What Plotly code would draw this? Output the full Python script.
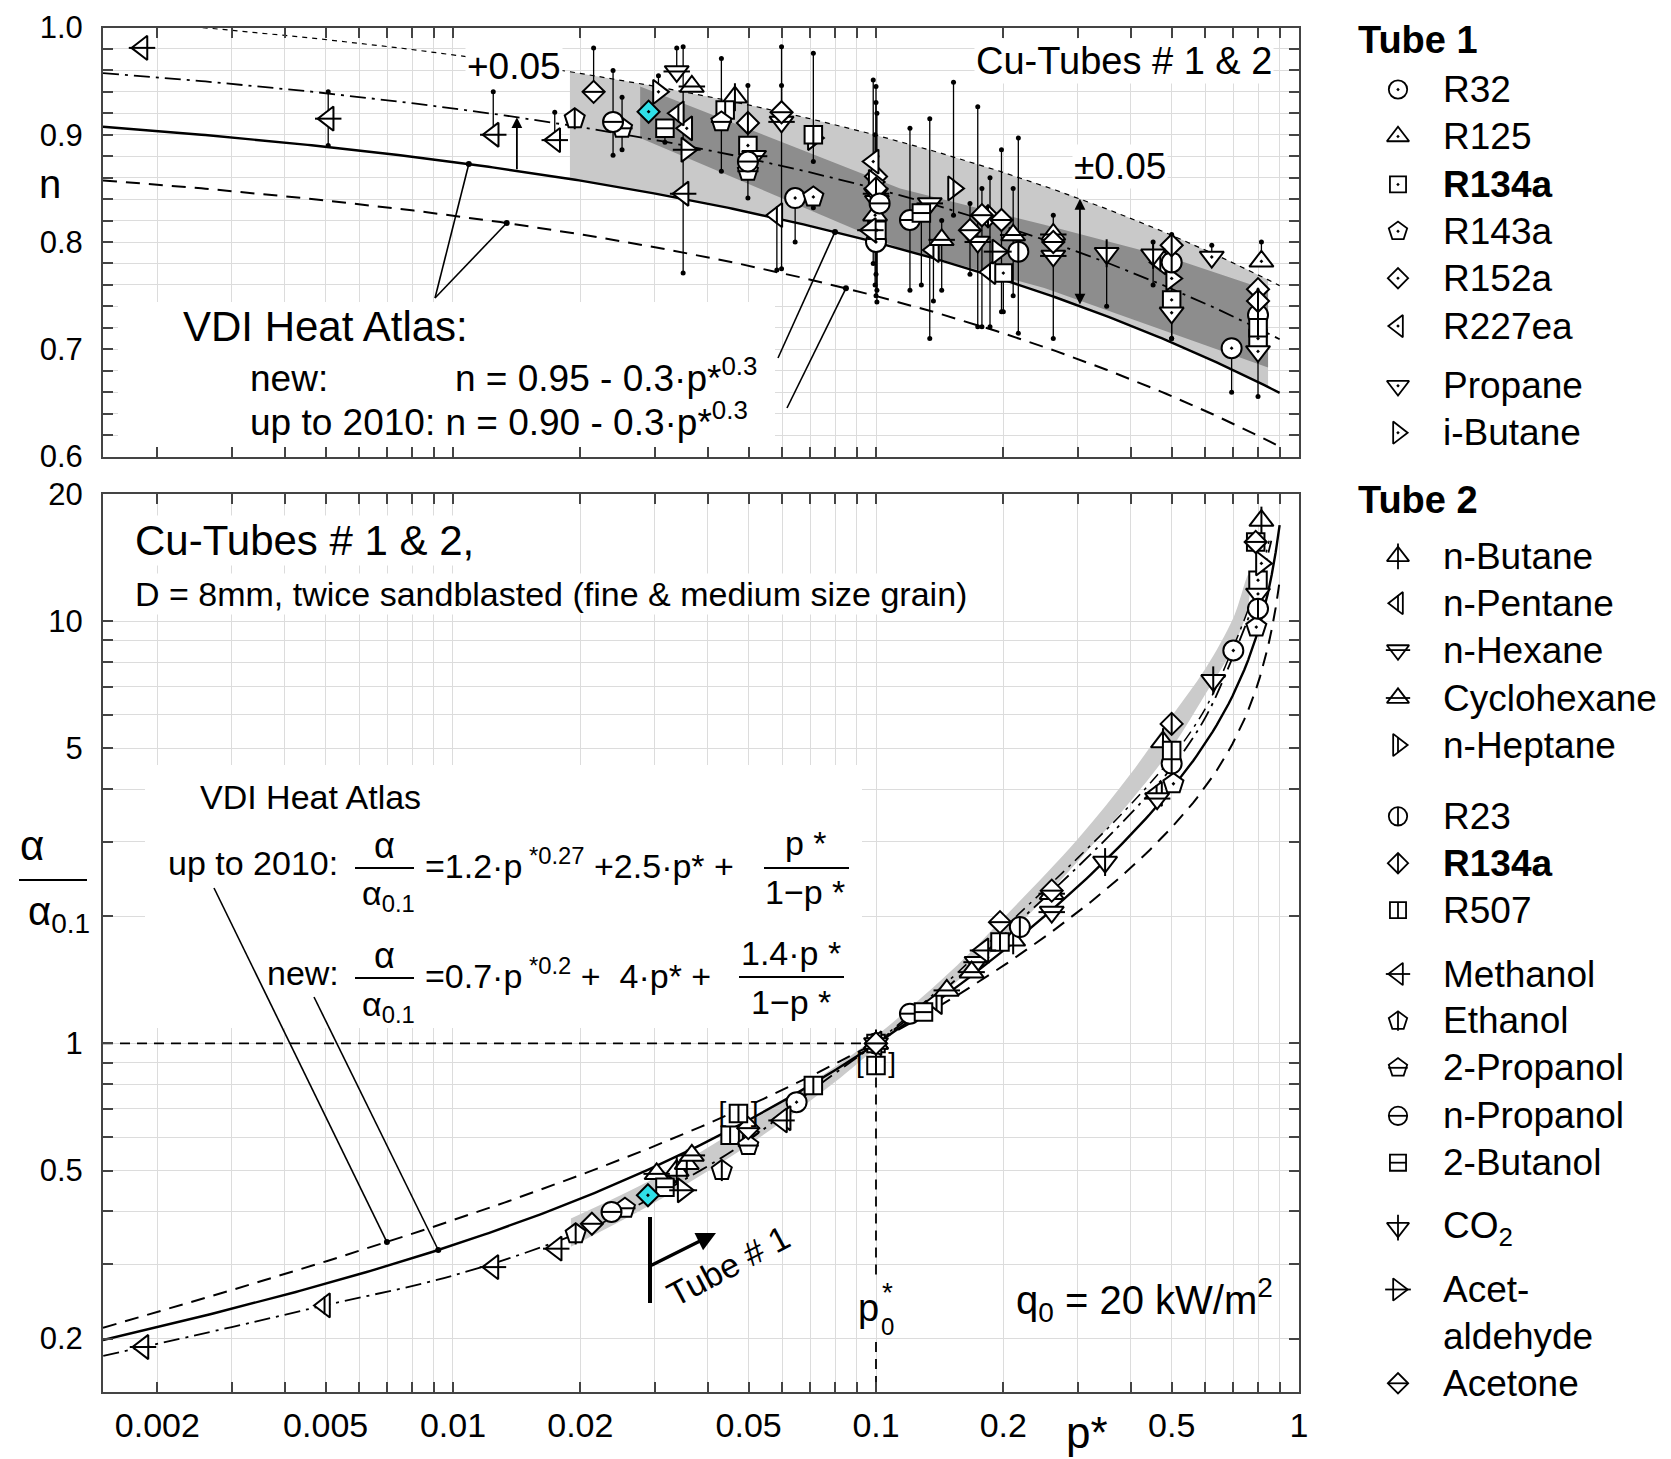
import numpy as np
import plotly.graph_objects as go

W, H = 1671, 1459
FONT = "Liberation Sans, Arial, Helvetica, sans-serif"

# ------------------------------------------------------------------ DATA
# correlations printed in the chart (VDI Heat Atlas)
N_NEW_A, N_OLD_A, N_B, N_C = 0.95, 0.90, 0.3, 0.3
N_FIT_SHIFT, N_BAND_SHIFT = 0.05, 0.10

# ---- top panel: exponent n, whisker ends (None = no whisker)
top_species = ["Methanol", "Methanol", "Methanol", "Methanol", "Ethanol", "Acetone", "n-Propanol", "2-Propanol",
               "i-Butane", "n-Hexane", "Cyclohexane", "2-Butanol", "n-Pentane", "R227ea", "Acetaldehyde", "Methanol",
               "2-Propanol", "n-Butane", "R507", "R134a T2", "R134a", "n-Hexane", "n-Propanol", "2-Propanol",
               "Acetone", "n-Hexane", "n-Heptane", "R507", "R32", "R143a", "n-Pentane",
               "R227ea", "R152a", "i-Butane", "R134a T2", "n-Hexane", "Propane", "n-Propanol", "R125", "Methanol", "R134a", "R32",
               "n-Propanol", "2-Butanol", "n-Hexane", "n-Pentane", "Cyclohexane", "n-Heptane", "Acetone", "n-Hexane", "Acetone", "R134a T2",
               "n-Pentane", "Acetone", "Acetaldehyde", "R134a", "Cyclohexane", "R23", "Acetone", "n-Hexane", "Cyclohexane",
               "CO2", "CO2", "R134a T2", "R23", "n-Pentane", "i-Butane", "R134a", "Propane", "Propane", "R32",
               "R125", "R152a", "R134a T2", "R23", "R507", "R134a", "Propane"]
top_p = [0.00184, 0.00507, 0.01245, 0.0174, 0.0194, 0.0215, 0.0239, 0.0251,
         0.0306, 0.0338, 0.0367, 0.0317, 0.0341, 0.0357, 0.0357, 0.0350,
         0.0431, 0.0464, 0.0440, 0.0498, 0.0498, 0.0515, 0.0498, 0.0498,
         0.0598, 0.0598, 0.0711, 0.0711, 0.0644, 0.0711, 0.0583,
         0.0985, 0.100, 0.099, 0.100, 0.100, 0.1005, 0.102, 0.0995, 0.097, 0.1005, 0.100,
         0.1203, 0.128, 0.134, 0.1367, 0.143, 0.1525, 0.1668, 0.174, 0.178, 0.184,
         0.186, 0.198, 0.194, 0.200, 0.211, 0.217, 0.2625, 0.2625, 0.2625,
         0.351, 0.452, 0.500, 0.500, 0.470, 0.500, 0.500, 0.500, 0.622, 0.693,
         0.815, 0.800, 0.800, 0.800, 0.800, 0.800, 0.800]
top_n = [0.981, 0.915, 0.900, 0.895, 0.915, 0.940, 0.912, 0.906,
         0.940, 0.959, 0.945, 0.906, 0.920, 0.906, 0.886, 0.845,
         0.912, 0.935, 0.923, 0.911, 0.890, 0.880, 0.875, 0.866,
         0.921, 0.912, 0.897, 0.900, 0.841, 0.842, 0.825,
         0.875, 0.861, 0.856, 0.850, 0.845, 0.838, 0.836, 0.825, 0.811, 0.811, 0.800,
         0.8205, 0.827, 0.836, 0.7925, 0.802, 0.850, 0.811, 0.800, 0.825, 0.824,
         0.772, 0.8205, 0.791, 0.771, 0.8065, 0.791, 0.800, 0.787, 0.807,
         0.7895, 0.788, 0.797, 0.781, 0.781, 0.766, 0.746, 0.734, 0.786, 0.701,
         0.782, 0.756, 0.745, 0.732, 0.720, 0.710, 0.698]
top_lo = [None, 0.890, 0.900, 0.895, None, 0.940, 0.881, 0.886,
          0.940, 0.959, None, 0.893, None, None, None, 0.771,
          0.866, None, None, 0.875, None, None, None, 0.841,
          0.921, 0.775, 0.875, None, 0.800, 0.832, 0.774,
          0.780, 0.800, None, 0.770, None, 0.755, None, 0.760, None, 0.744, 0.750,
          0.755, 0.760, 0.710, 0.745, 0.755, 0.825, 0.770, 0.721, 0.721, None,
          0.721, 0.735, None, 0.735, 0.750, 0.715, 0.710, None, None,
          0.740, 0.760, 0.710, None, None, None, None, 0.710, 0.786, 0.660,
          0.782, None, None, None, None, 0.656, None]
top_hi = [None, 0.940, 0.940, 0.921, None, 0.981, 0.960, 0.935,
          0.955, 0.981, None, 0.906, None, None, None, 0.982,
          0.971, None, None, 0.946, None, None, None, 0.866,
          0.982, 0.946, 0.976, None, 0.841, 0.842, 0.825,
          0.951, 0.945, None, 0.930, None, 0.920, None, 0.900, None, 0.880, 0.860,
          0.906, 0.827, 0.915, 0.7925, 0.820, 0.949, 0.836, 0.926, 0.850, None,
          0.860, 0.886, None, 0.771, 0.850, 0.897, 0.825, None, None,
          0.7895, 0.800, 0.807, None, None, None, None, 0.734, 0.797, 0.701,
          0.800, None, None, None, None, 0.750, None]

# highlighted (cyan) R152a point
hl_top_p, hl_top_n = [0.0290], [0.9215]
hl_bot_p, hl_bot_r = [0.0289], [0.437]

# dark grey band (top panel) vertices
dark_band_p = [0.0277, 0.114, 0.25, 0.5, 0.845, 0.845, 0.5, 0.25, 0.114, 0.0277]
dark_band_n = [0.945, 0.850, 0.816, 0.785, 0.755, 0.683, 0.715, 0.757, 0.794, 0.897]
light_band_range = [0.0189, 0.845]

# ---- bottom panel: alpha / alpha_0.1
bot_species = ["Methanol", "n-Pentane", "Methanol", "Methanol", "Ethanol", "Acetone", "n-Propanol", "2-Propanol",
               "2-Butanol", "Acetaldehyde", "i-Butane", "Cyclohexane", "n-Butane", "n-Butane", "Cyclohexane", "Ethanol",
               "R507", "n-Heptane", "Acetone", "2-Propanol", "Methanol", "n-Pentane", "R32", "R507",
               "R32", "R125", "R134a", "R152a", "R227ea", "Propane", "Acetone", "n-Butane",
               "n-Propanol", "2-Butanol", "n-Pentane", "Cyclohexane", "Cyclohexane", "n-Hexane", "Methanol", "Acetone", "R507", "R23", "n-Butane",
               "n-Hexane", "Cyclohexane", "Acetone", "CO2",
               "n-Pentane", "n-Hexane", "R143a", "R23", "R507", "n-Butane", "R134a T2",
               "CO2", "R32", "R143a", "R23", "Propane", "R134a", "i-Butane", "R507", "Acetone", "n-Butane"]
bot_p = [0.00185, 0.00497, 0.01243, 0.01754, 0.0195, 0.0213, 0.0237, 0.0255,
         0.0317, 0.035, 0.0318, 0.0303, 0.0338, 0.0357, 0.0367, 0.0432,
         0.0452, 0.0499, 0.0499, 0.0499, 0.0598, 0.0610, 0.0649, 0.0711,
         0.1, 0.1, 0.1, 0.1, 0.1, 0.1, 0.1, 0.1,
         0.1203, 0.1295, 0.139, 0.147, 0.1683, 0.1729, 0.179, 0.1964, 0.1964, 0.2188, 0.211,
         0.2603, 0.2603, 0.2603, 0.348,
         0.4606, 0.462, 0.5048, 0.5, 0.5, 0.477, 0.5,
         0.627, 0.6994, 0.7926, 0.80, 0.80, 0.80, 0.815, 0.79, 0.79, 0.815]
bot_ratio = [0.191, 0.2396, 0.2953, 0.3265, 0.354, 0.374, 0.399, 0.407,
             0.4567, 0.449, 0.47, 0.491, 0.50, 0.519, 0.543, 0.50,
             0.606, 0.617, 0.63, 0.573, 0.657, 0.665, 0.726, 0.795,
             1.0, 1.0, 1.0, 1.0, 1.0, 1.0, 1.0, 1.0,
             1.176, 1.186, 1.253, 1.335, 1.475, 1.557, 1.66, 1.937, 1.738, 1.886, 1.754,
             2.046, 2.262, 2.30, 2.688,
             3.90, 3.80, 4.12, 4.60, 4.94, 5.17, 5.71,
             7.24, 8.52, 9.68, 10.7, 11.6, 12.5, 13.7, 15.4, 15.4, 17.3]
bracket_p = [0.0473, 0.1]
bracket_ratio = [0.682, 0.887]

# measured-data fits (dash-dot) and grey band, bottom panel
fit_p = [0.00149, 0.003, 0.005, 0.01, 0.02, 0.03, 0.05, 0.07, 0.1, 0.15, 0.2, 0.3, 0.4, 0.5, 0.6, 0.7, 0.8, 0.86]
fit_ratio = [0.182, 0.213, 0.240, 0.282, 0.357, 0.435, 0.59, 0.77, 1.0, 1.38, 1.8, 2.62, 3.5, 4.5, 5.9, 8.3, 11.8, 15.5]
fit2_p = [0.1, 0.15, 0.2, 0.3, 0.4, 0.5, 0.6, 0.7, 0.8, 0.85]
fit2_ratio = [1.0, 1.42, 1.87, 2.75, 3.68, 4.75, 6.2, 8.7, 12.4, 15.5]
band_p = [0.019, 0.03, 0.05, 0.08, 0.1, 0.15, 0.2, 0.3, 0.4, 0.5, 0.6, 0.7, 0.76]
band_lo = [0.33, 0.42, 0.575, 0.81, 0.975, 1.36, 1.75, 2.70, 3.75, 5.0, 6.7, 8.7, 11.0]
band_hi = [0.385, 0.48, 0.65, 0.88, 1.04, 1.48, 1.98, 3.05, 4.35, 5.95, 7.7, 10.2, 12.9]

# ticks
x_tick_vals = [0.002, 0.003, 0.004, 0.005, 0.006, 0.007, 0.008, 0.009, 0.01, 0.02, 0.03, 0.04, 0.05, 0.06, 0.07,
               0.08, 0.09, 0.1, 0.2, 0.3, 0.4, 0.5, 0.6, 0.7, 0.8, 0.9, 1.0]
x_tick_text = ["0.002", "", "", "0.005", "", "", "", "", "0.01", "0.02", "", "", "0.05", "", "",
               "", "", "0.1", "0.2", "", "", "0.5", "", "", "", "", "1"]
top_y_tick_vals = [0.60, 0.62, 0.64, 0.66, 0.68, 0.70, 0.72, 0.74, 0.76, 0.78, 0.80, 0.82, 0.84, 0.86, 0.88,
                   0.90, 0.92, 0.94, 0.96, 0.98, 1.00]
top_y_tick_text = ["0.6", "", "", "", "", "0.7", "", "", "", "", "0.8", "", "", "", "",
                   "0.9", "", "", "", "", "1.0"]
bot_y_tick_vals = [0.2, 0.3, 0.4, 0.5, 0.6, 0.7, 0.8, 0.9, 1, 2, 3, 4, 5, 6, 7, 8, 9, 10, 20]
bot_y_tick_text = ["0.2", "", "", "0.5", "", "", "", "", "1", "", "", "", "5", "", "", "", "", "10", "20"]

# legend
legend_keys = ["R32", "R125", "R134a", "R143a", "R152a", "R227ea", "Propane", "i-Butane",
               "n-Butane", "n-Pentane", "n-Hexane", "Cyclohexane", "n-Heptane", "R23", "R134a T2", "R507",
               "Methanol", "Ethanol", "2-Propanol", "n-Propanol", "2-Butanol", "CO2", "Acetaldehyde", "Acetone"]
legend_labels = ["R32", "R125", "<b>R134a</b>", "R143a", "R152a", "R227ea", "Propane", "i-Butane",
                 "n-Butane", "n-Pentane", "n-Hexane", "Cyclohexane", "n-Heptane", "R23", "<b>R134a</b>", "R507",
                 "Methanol", "Ethanol", "2-Propanol", "n-Propanol", "2-Butanol", "CO<sub>2</sub>", "Acet-", "Acetone"]

# ------------------------------------------------------------------ STYLE / GEOMETRY
SPEC = {
    "R32": ("circle-dot", None, 0), "R125": ("triangle-up-dot", None, 0),
    "R134a": ("square-dot", None, 0), "R143a": ("pentagon-dot", None, 0),
    "R152a": ("diamond-dot", None, 0), "R227ea": ("triangle-left-dot", None, 0),
    "Propane": ("triangle-down-dot", None, 0), "i-Butane": ("triangle-right-dot", None, 0),
    "n-Butane": ("triangle-up", "line-ns", 0.95), "n-Pentane": ("triangle-left", "line-ns", 0.6),
    "n-Hexane": ("triangle-down", "line-ew", 0.9), "Cyclohexane": ("triangle-up", "line-ew", 0.9),
    "n-Heptane": ("triangle-right", "line-ns", 0.6), "R23": ("circle", "line-ns", 0.72),
    "R134a T2": ("diamond", "line-ns", 0.92), "R507": ("square", "line-ns", 0.72),
    "Methanol": ("triangle-left", "line-ew", 0.9), "Ethanol": ("pentagon", "line-ns", 0.72),
    "2-Propanol": ("pentagon", "line-ew", 0.72), "n-Propanol": ("circle", "line-ew", 0.72),
    "2-Butanol": ("square", "line-ew", 0.72), "CO2": ("triangle-down", "line-ns", 0.95),
    "Acetaldehyde": ("triangle-right", "line-ew", 0.95), "Acetone": ("diamond", "line-ew", 0.92),
}
SIZE = {"circle": 20, "square": 17.5, "diamond": 17, "pentagon": 21,
        "triangle-up": 21, "triangle-down": 21, "triangle-left": 21, "triangle-right": 21}

X0, X1 = 103.0, 1299.0
XR = [-2.8274, 0.0]
TY0, TY1 = 27.5, 456.5
TYR = [0.6, 1.0]
BY0, BY1 = 494.0, 1392.0
BYR = [-0.8255, 1.30103]
PMIN = 10 ** XR[0]


def p_from_px(x):
    return 10 ** (XR[0] + (x - X0) / (X1 - X0) * (XR[1] - XR[0]))


def px_from_p(p):
    return X0 + (np.log10(p) - XR[0]) / (XR[1] - XR[0]) * (X1 - X0)


def n_from_py(y):
    return TYR[1] - (y - TY0) / (TY1 - TY0) * (TYR[1] - TYR[0])


def py_from_n(n):
    return TY0 + (TYR[1] - n) / (TYR[1] - TYR[0]) * (TY1 - TY0)


def r_from_py(y):
    return 10 ** (BYR[1] - (y - BY0) / (BY1 - BY0) * (BYR[1] - BYR[0]))


def n_new(p):
    return N_NEW_A - N_B * np.asarray(p) ** N_C


def n_old(p):
    return N_OLD_A - N_B * np.asarray(p) ** N_C


def r_new(p):
    p = np.asarray(p)
    return 0.7 * p ** 0.2 + 4 * p + 1.4 * p / (1 - p)


def r_old(p):
    p = np.asarray(p)
    return 1.2 * p ** 0.27 + 2.5 * p + p / (1 - p)


fig = go.Figure()


def T(**kw):
    kw.setdefault("hoverinfo", "skip")
    kw.setdefault("showlegend", False)
    fig.add_trace(go.Scatter(**kw))


def add_markers(species, xs, ys, xa, ya, scale=1.0, lw=2.0):
    for sp, (base, ov, f) in SPEC.items():
        idx = [i for i, s in enumerate(species) if s == sp]
        if not idx:
            continue
        x = [xs[i] for i in idx]
        y = [ys[i] for i in idx]
        s = SIZE[base.replace("-dot", "")] * scale
        T(x=x, y=y, xaxis=xa, yaxis=ya, mode="markers", cliponaxis=False,
          marker=dict(symbol=base, size=s, color="white", line=dict(color="black", width=lw)))
        if ov:
            T(x=x, y=y, xaxis=xa, yaxis=ya, mode="markers", cliponaxis=False,
              marker=dict(symbol=ov, size=s * f, color="black", line=dict(color="black", width=lw)))


def whiskers(xs, lo, hi, xa, ya):
    ex, ey, dx, dy = [], [], [], []
    for x, a, b in zip(xs, lo, hi):
        if a is None:
            continue
        ex += [x, x, None]
        ey += [a, b, None]
        dx += [x, x]
        dy += [a, b]
    T(x=ex, y=ey, xaxis=xa, yaxis=ya, mode="lines", line=dict(color="black", width=1.3))
    T(x=dx, y=dy, xaxis=xa, yaxis=ya, mode="markers", marker=dict(color="black", size=5))


# ================================================================= TOP PANEL
bx = [p_from_px(v) for v in (118, 775, 775, 118, 118)]
by = [n_from_py(v) for v in (302, 302, 450, 450, 302)]
T(x=bx, y=by, xaxis="x", yaxis="y", mode="lines", fill="toself", fillcolor="white", line=dict(width=0))

pb = np.logspace(np.log10(light_band_range[0]), np.log10(light_band_range[1]), 80)
T(x=np.concatenate([pb, pb[::-1]]), y=np.concatenate([n_new(pb) + N_BAND_SHIFT, n_new(pb)[::-1]]),
  xaxis="x", yaxis="y", mode="lines", fill="toself", fillcolor="#c9c9c9", line=dict(width=0))
T(x=dark_band_p, y=dark_band_n, xaxis="x", yaxis="y", mode="lines", fill="toself",
  fillcolor="#8d8d8d", line=dict(width=0))

pc = np.logspace(XR[0], np.log10(0.9), 300)
T(x=pc, y=n_new(pc) + N_BAND_SHIFT, xaxis="x", yaxis="y", mode="lines",
  line=dict(color="black", width=1.2, dash="5px,5px"))
T(x=pc, y=n_new(pc) + N_FIT_SHIFT, xaxis="x", yaxis="y", mode="lines",
  line=dict(color="black", width=1.8, dash="16px,6px,3px,6px"))
T(x=pc, y=n_new(pc), xaxis="x", yaxis="y", mode="lines", line=dict(color="black", width=2.4))
T(x=pc, y=n_old(pc), xaxis="x", yaxis="y", mode="lines",
  line=dict(color="black", width=2, dash="14px,9px"))

whiskers(top_p, top_lo, top_hi, "x", "y")
add_markers(top_species, top_p, top_n, "x", "y")
T(x=hl_top_p, y=hl_top_n, xaxis="x", yaxis="y", mode="markers",
  marker=dict(symbol="diamond-dot", size=17, color="#2fe0e8", line=dict(color="black", width=2)))

# leader lines (top)
tl_start = [(435, 298), (435, 298), (778, 358), (787, 408)]
tl_target = [(0.0109, "new"), (0.0134, "old"), (0.080, "new"), (0.0849, "old")]
lx, ly, ddx, ddy = [], [], [], []
for (sx, sy), (tp, kind) in zip(tl_start, tl_target):
    tn = float(n_new(tp) if kind == "new" else n_old(tp))
    lx += [p_from_px(sx), tp, None]
    ly += [n_from_py(sy), tn, None]
    ddx.append(tp)
    ddy.append(tn)
T(x=lx, y=ly, xaxis="x", yaxis="y", mode="lines", line=dict(color="black", width=1.6))
T(x=ddx, y=ddy, xaxis="x", yaxis="y", mode="markers", marker=dict(color="black", size=6))

# ================================================================= BOTTOM PANEL
bx = [p_from_px(v) for v in (145, 862, 862, 145, 145)]
by = [r_from_py(v) for v in (765, 765, 1028, 1028, 765)]
T(x=bx, y=by, xaxis="x2", yaxis="y2", mode="lines", fill="toself", fillcolor="white", line=dict(width=0))

T(x=band_p + band_p[::-1], y=band_hi + band_lo[::-1], xaxis="x2", yaxis="y2", mode="lines",
  fill="toself", fillcolor="#cbcbcb", line=dict(width=0, shape="spline"))

pc2 = np.logspace(XR[0], np.log10(0.9), 300)
T(x=pc2, y=r_old(pc2), xaxis="x2", yaxis="y2", mode="lines",
  line=dict(color="black", width=2, dash="14px,9px"))
T(x=pc2, y=r_new(pc2), xaxis="x2", yaxis="y2", mode="lines", line=dict(color="black", width=2.4))
T(x=fit_p, y=fit_ratio, xaxis="x2", yaxis="y2", mode="lines",
  line=dict(color="black", width=1.8, dash="16px,6px,3px,6px", shape="spline"))
T(x=fit2_p, y=fit2_ratio, xaxis="x2", yaxis="y2", mode="lines",
  line=dict(color="black", width=1.5, dash="12px,6px,3px,6px", shape="spline"))

# reference cross at p* = 0.1
T(x=[PMIN, 0.1, None, 0.1, 0.1, None, 0.1, 0.1],
  y=[1, 1, None, 1, r_from_py(1280), None, r_from_py(1342), r_from_py(1392)],
  xaxis="x2", yaxis="y2", mode="lines", line=dict(color="black", width=1.8, dash="10px,7px"))

add_markers(bot_species, bot_p, bot_ratio, "x2", "y2")
T(x=bracket_p, y=bracket_ratio, xaxis="x2", yaxis="y2", mode="markers",
  marker=dict(symbol="square", size=17.5, color="white", line=dict(color="black", width=2)))
T(x=bracket_p, y=bracket_ratio, xaxis="x2", yaxis="y2", mode="markers",
  marker=dict(symbol="line-ns", size=12.5, color="black", line=dict(color="black", width=2)))
T(x=bracket_p, y=bracket_ratio, xaxis="x2", yaxis="y2", mode="markers+text", text=["["] * len(bracket_p),
  textposition="middle left", textfont=dict(size=28, family=FONT, color="black"),
  marker=dict(size=18, color="rgba(0,0,0,0)"))
T(x=bracket_p, y=bracket_ratio, xaxis="x2", yaxis="y2", mode="markers+text", text=["]"] * len(bracket_p),
  textposition="middle right", textfont=dict(size=28, family=FONT, color="black"),
  marker=dict(size=18, color="rgba(0,0,0,0)"))
T(x=hl_bot_p, y=hl_bot_r, xaxis="x2", yaxis="y2", mode="markers",
  marker=dict(symbol="diamond-dot", size=17, color="#2fe0e8", line=dict(color="black", width=2)))

bl_start = [(214, 888), (314, 997)]
bl_target = [(0.00698, "old"), (0.00923, "new")]
lx, ly, ddx, ddy = [], [], [], []
for (sx, sy), (tp, kind) in zip(bl_start, bl_target):
    tr = float(r_old(tp) if kind == "old" else r_new(tp))
    lx += [p_from_px(sx), tp, None]
    ly += [r_from_py(sy), tr, None]
    ddx.append(tp)
    ddy.append(tr)
T(x=lx, y=ly, xaxis="x2", yaxis="y2", mode="lines", line=dict(color="black", width=1.6))
T(x=ddx, y=ddy, xaxis="x2", yaxis="y2", mode="markers", marker=dict(color="black", size=6))

# ================================================================= LEGEND (pixel overlay axis)
legend_y = [89.5, 136.4, 184.4, 231.3, 278.2, 326.1, 385.8, 432.7,
            556.3, 603.2, 650.1, 698.0, 745.0, 816.3, 863.2, 910.1,
            974.0, 1021.0, 1067.8, 1115.8, 1162.7, 1227.7, 1289.5, 1383.3]
add_markers(legend_keys, [1398] * len(legend_keys), legend_y, "x3", "y3", scale=0.92, lw=1.8)

# ================================================================= ANNOTATIONS
ann = []
shapes = []


def A(text, x, y, size=37, xanchor="center", yanchor="middle", **kw):
    d = dict(text=text, x=x / W, y=1 - y / H, xref="paper", yref="paper", showarrow=False,
             xanchor=xanchor, yanchor=yanchor, font=dict(size=size, family=FONT, color="black"))
    d.update(kw)
    ann.append(d)


def L(x0, y0, x1, y1, width=2, dash=None):
    shapes.append(dict(type="line", xref="paper", yref="paper", x0=x0 / W, y0=1 - y0 / H,
                       x1=x1 / W, y1=1 - y1 / H, line=dict(color="black", width=width, dash=dash)))


# top panel texts
A("+0.05", 514, 66, 37, bgcolor="white")
A("Cu-Tubes # 1 &amp; 2", 1274, 61, 38, xanchor="right", bgcolor="white")
A("±0.05", 1120, 166, 37, bgcolor="white")
A("VDI Heat Atlas:", 181, 326, 42, xanchor="left")
A("new:", 248, 378, 37, xanchor="left")
A("n = 0.95 - 0.3·p*<sup>0.3</sup>", 453, 376, 37, xanchor="left")
A("up to 2010: n = 0.90 - 0.3·p*<sup>0.3</sup>", 248, 419, 37, xanchor="left")
A("n", 50, 184, 40)

# "+0.05" arrow (solid -> dash-dot)
pa = 0.01416
xa_ = px_from_p(pa)
y_tip = py_from_n(float(n_new(pa) + N_FIT_SHIFT))
y_tail = py_from_n(float(n_new(pa)))
ann.append(dict(x=xa_ / W, y=1 - y_tip / H, xref="paper", yref="paper", text="", showarrow=True,
                ax=0, ay=y_tail - y_tip, arrowhead=2, arrowsize=1.2, arrowwidth=1.8, arrowcolor="black"))
# "±0.05" double arrow (solid <-> upper band)
pb_ = 0.3035
xb_ = px_from_p(pb_)
y_tip = py_from_n(float(n_new(pb_) + N_BAND_SHIFT))
y_tail = py_from_n(float(n_new(pb_)))
ann.append(dict(x=xb_ / W, y=1 - y_tip / H, xref="paper", yref="paper", text="", showarrow=True,
                ax=0, ay=y_tail - y_tip, arrowhead=2, startarrowhead=2, arrowside="end+start",
                arrowsize=1.2, arrowwidth=1.8, arrowcolor="black"))

# bottom panel texts
A("Cu-Tubes # 1 &amp; 2,", 133, 540, 42, xanchor="left", bgcolor="white")
A("D = 8mm, twice sandblasted (fine &amp; medium size grain)", 133, 594, 34, xanchor="left", bgcolor="white")
A("VDI Heat Atlas", 198, 797, 34, xanchor="left")
# formula: up to 2010
A("up to 2010:", 340, 863, 34, xanchor="right")
A("α", 384, 845, 36)
L(355, 868, 414, 868, 2)
A("α<sub>0.1</sub>", 388, 895, 34)
A("=1.2·p<sup> *0.27</sup> +2.5·p* +", 423, 863, 34, xanchor="left")
A("p *", 806, 843, 34)
L(764, 868, 849, 868, 2)
A("1−p *", 805, 892, 34)
# formula: new
A("new:", 341, 973, 34, xanchor="right")
A("α", 384, 955, 36)
L(355, 978, 414, 978, 2)
A("α<sub>0.1</sub>", 388, 1006, 34)
A("=0.7·p<sup> *0.2</sup> +  4·p* +", 423, 973, 34, xanchor="left")
A("1.4·p *", 791, 953, 34)
L(739, 977, 844, 977, 2)
A("1−p *", 791, 1002, 34)

A("q<sub>0</sub> = 20 kW/m<sup>2</sup>", 1275, 1300, 40, xanchor="right")
A("p", 868, 1308, 38)
A("*", 887, 1292, 28)
A("0", 887, 1326, 24)

# Tube # 1 marker
L(650, 1217, 650, 1303, 4)
ann.append(dict(x=716 / W, y=1 - 1233 / H, xref="paper", yref="paper", text="", showarrow=True,
                ax=650 - 716, ay=1266 - 1233, arrowhead=2, arrowsize=1.1, arrowwidth=3.5, arrowcolor="black"))
A("Tube # 1", 728, 1266, 34, textangle=-28)

# y-axis label alpha/alpha_0.1
A("α", 32, 845, 42)
L(19, 880, 87, 880, 2)
A("α<sub>0.1</sub>", 59, 914, 40)
# x-axis label
A("p*", 1087, 1432, 44)

# legend texts
A("<b>Tube 1</b>", 1356, 40, 38, xanchor="left")
A("<b>Tube 2</b>", 1356, 500, 38, xanchor="left")
for lab, yy in zip(legend_labels, legend_y):
    A(lab, 1441, yy, 37, xanchor="left")
A("aldehyde", 1441, 1336.4, 37, xanchor="left")

# ================================================================= LAYOUT
axis_common = dict(showline=True, linecolor="#444", linewidth=2, mirror="ticks", ticks="inside",
                   ticklen=10, tickwidth=1.5, tickcolor="#444", showgrid=True, gridcolor="#dcdcdc",
                   gridwidth=1.4, zeroline=False, automargin=False)
xdom = [X0 / W, X1 / W]
fig.update_layout(
    template="none",
    width=W, height=H, margin=dict(l=0, r=0, t=0, b=0, pad=0, autoexpand=False),
    paper_bgcolor="white", plot_bgcolor="rgba(0,0,0,0)", showlegend=False,
    font=dict(family=FONT, color="black"),
    xaxis=dict(domain=xdom, anchor="y", type="log", range=XR, tickvals=x_tick_vals,
               ticktext=[""] * len(x_tick_vals), showticklabels=False, **axis_common),
    yaxis=dict(domain=[1 - TY1 / H, 1 - TY0 / H], anchor="x", range=TYR, tickvals=top_y_tick_vals,
               ticktext=top_y_tick_text, ticklabelstandoff=12,
               tickfont=dict(size=31, family=FONT, color="black"), **axis_common),
    xaxis2=dict(domain=xdom, anchor="y2", type="log", range=XR, tickvals=x_tick_vals,
                ticktext=x_tick_text, ticklabelstandoff=2,
                tickfont=dict(size=34, family=FONT, color="black"), **axis_common),
    yaxis2=dict(domain=[1 - BY1 / H, 1 - BY0 / H], anchor="x2", type="log", range=BYR,
                tickvals=bot_y_tick_vals, ticktext=bot_y_tick_text, ticklabelstandoff=12,
                tickfont=dict(size=31, family=FONT, color="black"), **axis_common),
    xaxis3=dict(domain=[0, 1], anchor="y3", range=[0, W], visible=False, fixedrange=True, automargin=False),
    yaxis3=dict(domain=[0, 1], anchor="x3", range=[H, 0], visible=False, fixedrange=True, automargin=False),
    annotations=ann, shapes=shapes,
)

fig.write_html("out.html", config={"displayModeBar": False},
               post_script="document.body.style.margin='0';document.body.style.overflow='hidden';")
